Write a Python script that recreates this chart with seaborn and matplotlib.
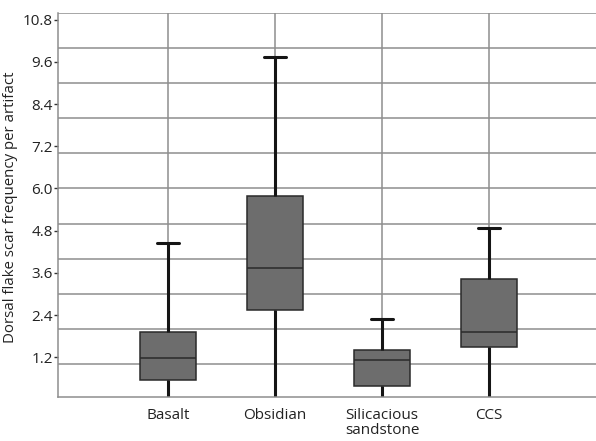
import pandas as pd
import numpy as np
import seaborn as sns
import matplotlib.pyplot as plt

# five-number summaries (min, q1, median, q3, max)
categories = ['Basalt', 'Obsidian', 'Silicacious\nsandstone', 'CCS']
basalt = [0.0, 0.55, 1.17, 1.92, 4.45]
obsidian = [0.0, 2.54, 3.73, 5.78, 9.74]
sandstone = [0.0, 0.39, 1.13, 1.42, 2.29]
ccs = [0.0, 1.48, 1.92, 3.42, 4.88]
y_ticks = [1.2, 2.4, 3.6, 4.8, 6.0, 7.2, 8.4, 9.6, 10.8]

# with 5 points the quartiles come out exactly, whiskers go to min/max
data = pd.DataFrame({
    'material': np.repeat(categories, 5),
    'value': basalt + obsidian + sandstone + ccs,
})

sns.set_style('white')
plt.rcParams['font.family'] = ['Open Sans', 'DejaVu Sans']

fig = plt.figure(figsize=(5.96, 4.41), dpi=100)
ax = fig.add_axes([0.098, 0.1005, 0.902, 0.871])

grid_col = '#8e8e8e'
# gridlines at whole numbers, vertical ones through the boxes
for v in range(1, 12):
    ax.axhline(v, color=grid_col, lw=1.1, zorder=0)
for i in range(len(categories)):
    ax.axvline(i, color=grid_col, lw=1.1, zorder=0)

sns.boxplot(data=data, x='material', y='value', order=categories,
            whis=(0, 100), width=0.52, color='#6d6d6d', saturation=1,
            linecolor='#2a2a2a', linewidth=1.1, capwidths=0.2,
            whiskerprops={'color': '#151515', 'linewidth': 2.2},
            capprops={'color': '#151515', 'linewidth': 2.2},
            medianprops={'color': '#2a2a2a', 'linewidth': 1.1},
            ax=ax, zorder=2)

ax.set_xlim(-1.025, 4.0)
ax.set_ylim(0.08, 11)
ax.set_yticks(y_ticks)
ax.set_yticklabels([f'{t:.1f}' for t in y_ticks])

for s in ['top', 'right']:
    ax.spines[s].set_visible(False)
for s in ['left', 'bottom']:
    ax.spines[s].set_color(grid_col)
    ax.spines[s].set_linewidth(1.1)

ax.tick_params(axis='y', left=True, length=3, width=1, color='#333333',
               labelsize=11, labelcolor='#222222', pad=1)
ax.tick_params(axis='x', bottom=False, labelsize=11, labelcolor='#222222', pad=5)
for lab in ax.get_xticklabels():
    lab.set_linespacing(1.0)

ax.set_xlabel('')
ax.set_ylabel('Dorsal flake scar frequency per artifact', fontsize=10.8,
              color='#222222')
ax.yaxis.set_label_coords(-0.076, 0.4925)

plt.savefig('out.png', dpi=100)
